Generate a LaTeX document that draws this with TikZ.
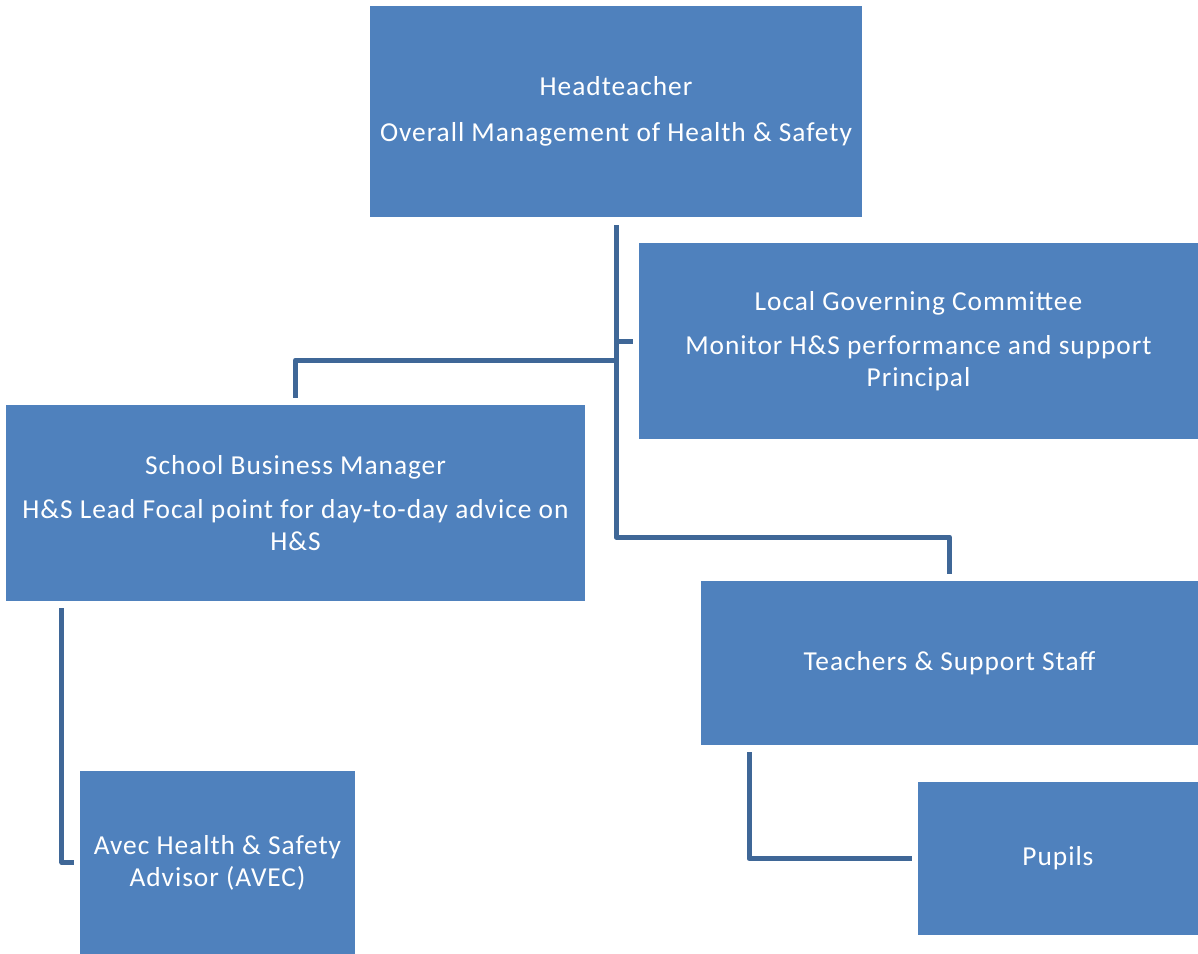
\documentclass[tikz,border=0pt]{standalone}
\usepackage{fontspec}
\setmainfont{Carlito}[LetterSpace=3.5]
\definecolor{boxblue}{HTML}{4F81BD}
\definecolor{linkblue}{HTML}{3F6797}
\begin{document}
\begin{tikzpicture}[x=1bp,y=1bp,
  box/.style={fill=boxblue, draw=none, inner sep=0pt, outer sep=0pt, text=white,
    align=center, font=\fontsize{27.5}{32}\selectfont},
  link/.style={draw=linkblue, line width=5bp, line join=round, line cap=butt}]
\useasboundingbox (0,0) rectangle (1198,-954);
\node[box, minimum width=492bp, minimum height=211bp] (head) at (616,-111.5)
  {Headteacher\\[14bp]Overall Management of Health \& Safety};
\node[box, minimum width=559bp, minimum height=196bp] (lgc) at (918.5,-341)
  {Local Governing Committee\\[12bp]Monitor H\&S performance and support\\Principal};
\node[box, minimum width=579bp, minimum height=196bp] (sbm) at (295.5,-503)
  {School Business Manager\\[12bp]H\&S Lead Focal point for day-to-day advice on\\H\&S};
\node[box, minimum width=497bp, minimum height=164bp] (teach) at (949.5,-663)
  {Teachers \& Support Staff};
\node[box, minimum width=275bp, minimum height=183bp] (avec) at (217.5,-862.5)
  {Avec Health \& Safety\\Advisor (AVEC)};
\node[box, minimum width=280bp, minimum height=153bp] (pupils) at (1058,-858.5)
  {Pupils};
\coordinate (top) at ([yshift=-8bp]head.south);
\coordinate (jlow) at (616,-537);
\coordinate (jmid) at (616,-360);
\draw[link] (top) -- (jlow) -| ([yshift=7bp]teach.north);
\draw[link] (top |- lgc.west) -- ([xshift=-6bp]lgc.west);
\draw[link] (jmid) -| ([yshift=7bp]sbm.north);
\draw[link] ([shift={(56bp,-7bp)}]sbm.south west) |- ([xshift=-6bp]avec.west);
\draw[link] ([shift={(48bp,-7bp)}]teach.south west) |- ([xshift=-6bp]pupils.west);
\end{tikzpicture}
\end{document}
